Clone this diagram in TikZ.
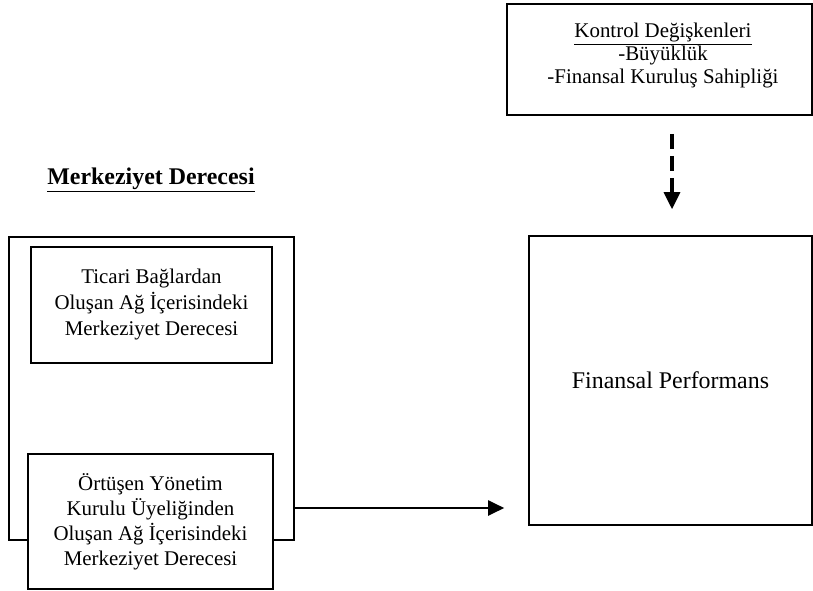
\documentclass[tikz,border=0pt]{standalone}
\usepackage{fontspec}
\setmainfont{Liberation Serif}
\usepackage{xcolor}
\usetikzlibrary{arrows.meta,positioning}
\definecolor{ink}{HTML}{000000}
\tikzset{
  x=1bp,y=-1bp,
  box/.style={draw=ink,line width=1.6bp,fill=white,inner sep=0pt,align=center,
    font=\fontsize{20.9bp}{25bp}\selectfont},
  plain/.style={inner sep=0pt,align=center,font=\fontsize{20.9bp}{23bp}\selectfont},
  bigtext/.style={font=\fontsize{23.9bp}{28bp}\selectfont},
  flow/.style={-{Triangle[length=16bp,width=15bp]},line width=2bp,color=ink},
  dashflow/.style={-{Triangle[length=17bp,width=16bp]},line width=3.2bp,color=ink,
    dash pattern=on 15bp off 7bp},
}

\begin{document}
\begin{tikzpicture}
  \useasboundingbox (0,0) rectangle (813,591);
  % control variables
  \node[box,minimum width=305bp,minimum height=111bp] (ctrlbox) at (659.5,59.5) {};
  \node[plain] (ctrltext) at (663,56)
    {\underline{Kontrol Değişkenleri}\\-Büyüklük\\-Finansal Kuruluş Sahipliği};
  % dependent variable
  \node[box,bigtext,minimum width=283bp,minimum height=289bp] (perfbox) at (670.5,380.5)
    {Finansal Performans};
  % centrality
  \node[plain,bigtext] (headtext) at (151,180) {\textbf{\underline{Merkeziyet Derecesi}}};
  \node[box,minimum width=285bp,minimum height=303bp] (outerbox) at (151.5,388.5) {};
  \node[box,minimum width=241bp,minimum height=116bp,
    font=\fontsize{20.9bp}{26bp}\selectfont] (tradebox) at (151.5,305)
    {Ticari Bağlardan\\Oluşan Ağ İçerisindeki\\Merkeziyet Derecesi};
  \node[box,minimum width=245bp,minimum height=135bp] (boardbox) at (150.5,521.5)
    {Örtüşen Yönetim\\Kurulu Üyeliğinden\\Oluşan Ağ İçerisindeki\\Merkeziyet Derecesi};
  % arrows
  \coordinate (armlevel) at (0,508);
  \coordinate (dashcol) at (672,0);
  \draw[flow,shorten >=24bp] (outerbox.east |- armlevel) -- (perfbox.west |- armlevel);
  \draw[dashflow,shorten <=18bp,shorten >=26bp] (ctrlbox.south -| dashcol) -- (perfbox.north -| dashcol);
\end{tikzpicture}
\end{document}
